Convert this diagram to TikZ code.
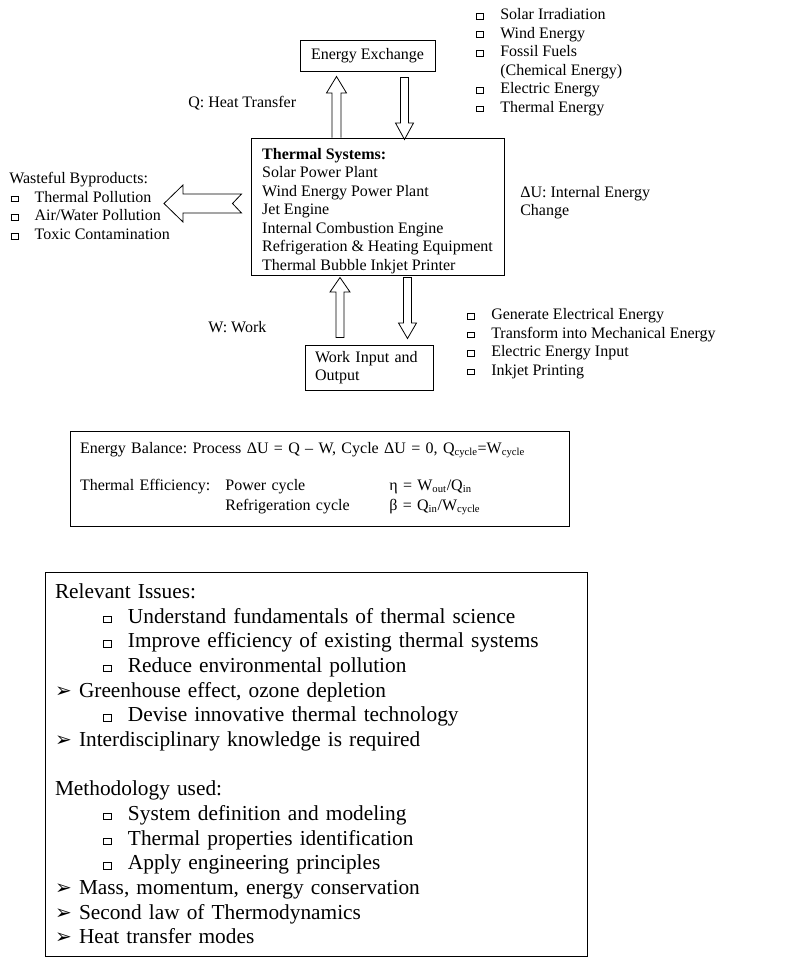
\documentclass[tikz,border=0pt]{standalone}
\usepackage{fontspec}
\setmainfont{Liberation Serif}
\newfontfamily\dingfont{DejaVu Sans}
\usetikzlibrary{calc}
\frenchspacing

% small hollow square bullet and list items
\newcommand{\sqb}{\raisebox{0.6pt}{\setlength{\fboxsep}{0pt}\setlength{\fboxrule}{0.7pt}\fbox{\rule{0pt}{3.6pt}\hspace{4.6pt}}}}
\newcommand{\itm}[1]{\makebox[18pt][l]{\sqb}#1}
\newcommand{\bigsq}{\raisebox{1pt}{\setlength{\fboxsep}{0pt}\setlength{\fboxrule}{0.7pt}\fbox{\rule{0pt}{4pt}\hspace{5.2pt}}}}
\newcommand{\bitm}[1]{\hspace*{36pt}\makebox[18.75pt][l]{\bigsq}#1}
\newcommand{\aitm}[1]{\makebox[18pt][l]{\dingfont\fontsize{15}{15}\selectfont ➢}#1}

\tikzset{
  box/.style={draw, line width=0.75pt, inner sep=0pt},
  blockarr/.style={draw, line width=0.6pt, line join=miter},
  lbl/.style={anchor=west, inner sep=0pt, align=left, font=\fontsize{12}{13.9}\selectfont},
  txt/.style={font=\fontsize{12}{13.9}\selectfont},
}

\begin{document}
\begin{tikzpicture}[x=0.75pt, y=-0.75pt]
\useasboundingbox (0,0) rectangle (800,957);

% boxes
\node[box, txt, minimum width=101.25pt, minimum height=23.25pt] (ee) at (367.5,55.5) {Energy Exchange};
\node[box, txt, minimum width=189.75pt, minimum height=102.75pt, align=left] (ts) at (377.5,206.5)
  {\rule{0pt}{15pt}\textbf{Thermal Systems:}\\ Solar Power Plant\\ Wind Energy Power Plant\\ Jet Engine\\
   Internal Combustion Engine\\ Refrigeration \& Heating Equipment\\ Thermal Bubble Inkjet Printer};
\node[box, txt, minimum width=96pt, minimum height=33.75pt, text width=81pt, align=left] (wio) at (369,367.5)
  {Work Input and\\ Output};

% side lists and labels
\node[lbl] (src) at (476,62) {\itm{Solar Irradiation}\\ \itm{Wind Energy}\\ \itm{Fossil Fuels}\\
  \hspace*{18pt}(Chemical Energy)\\ \itm{Electric Energy}\\ \itm{Thermal Energy}};
\node[lbl] (wb) at (9,206) {Wasteful Byproducts:\\ \hspace*{1pt}\itm{Thermal Pollution}\\
  \hspace*{1pt}\itm{Air/Water Pollution}\\ \hspace*{1pt}\itm{Toxic Contamination}};
\node[lbl] (use) at (467,343.5) {\itm{Generate Electrical Energy}\\ \itm{Transform into Mechanical Energy}\\
  \itm{Electric Energy Input}\\ \itm{Inkjet Printing}};
\node[lbl] (qlbl) at (188,103) {Q: Heat Transfer};
\node[lbl] (wlbl) at (208,327) {W: Work};
\node[lbl] (ulbl) at (520,202.5) {ΔU: Internal Energy\\ Change};

% block arrows
\draw[blockarr] (332,0 |- ts.north) -- (332,93) -- (326.5,93) -- ($(336.5,0 |- ee.south)+(0,5)$)
  -- (346.5,93) -- (341,93) -- (341,0 |- ts.north);
\draw[blockarr] ($(400.5,0 |- ee.south)+(0,6)$) -- (400.5,123) -- (395.5,123) -- ($(404.5,0 |- ts.north)+(0,2)$)
  -- (413.5,123) -- (408.5,123) -- ($(408.5,0 |- ee.south)+(0,6)$) -- cycle;
\draw[blockarr] ($(340,0 |- ts.south)+(0,2)$) -- (350,292) -- (344,292) -- ($(344,0 |- wio.north)+(0,-7)$)
  -- ($(336,0 |- wio.north)+(0,-7)$) -- (336,292) -- (330,292) -- cycle;
\draw[blockarr] ($(403.5,0 |- ts.south)+(0,2)$) -- (403.5,323) -- (398.5,323) -- ($(407.5,0 |- wio.north)+(0,-6)$)
  -- (416.5,323) -- (411.5,323) -- ($(411.5,0 |- ts.south)+(0,2)$) -- cycle;
\draw[blockarr] ($(ts.west |- 0,194)+(-9,0)$) -- (183,194) -- (183,185) -- (164,203.5) -- (183,222)
  -- (183,213) -- ($(ts.west |- 0,213)+(-9,0)$) -- ($(ts.west |- 0,203.5)+(-18,0)$) -- cycle;

% energy balance
\node[box, txt, minimum width=374.25pt, minimum height=71.25pt, text width=359.25pt, align=left] (eb) at (319.5,478.5)
  {Energy Balance: Process ΔU = Q – W, Cycle ΔU = 0, Q\textsubscript{cycle}=W\textsubscript{cycle}\\[13.8pt]
   \makebox[109pt][l]{Thermal Efficiency:}\makebox[123pt][l]{Power cycle}η = W\textsubscript{out}/Q\textsubscript{in}\\[1.1pt]
   \hspace*{109pt}\makebox[123pt][l]{Refrigeration cycle}β = Q\textsubscript{in}/W\textsubscript{cycle}};

% issues and methodology
\node[box, minimum width=406.5pt, minimum height=288pt, text width=391.5pt, align=left,
  font=\fontsize{16}{18.5}\selectfont] (iss) at (316,764)
  {Relevant Issues:\\ \bitm{Understand fundamentals of thermal science}\\
   \bitm{Improve efficiency of existing thermal systems}\\ \bitm{Reduce environmental pollution}\\
   \aitm{Greenhouse effect, ozone depletion}\\ \bitm{Devise innovative thermal technology}\\
   \aitm{Interdisciplinary knowledge is required}\\[18.5pt]
   Methodology used:\\ \bitm{System definition and modeling}\\ \bitm{Thermal properties identification}\\
   \bitm{Apply engineering principles}\\ \aitm{Mass, momentum, energy conservation}\\
   \aitm{Second law of Thermodynamics}\\ \aitm{Heat transfer modes}};
\end{tikzpicture}
\end{document}
